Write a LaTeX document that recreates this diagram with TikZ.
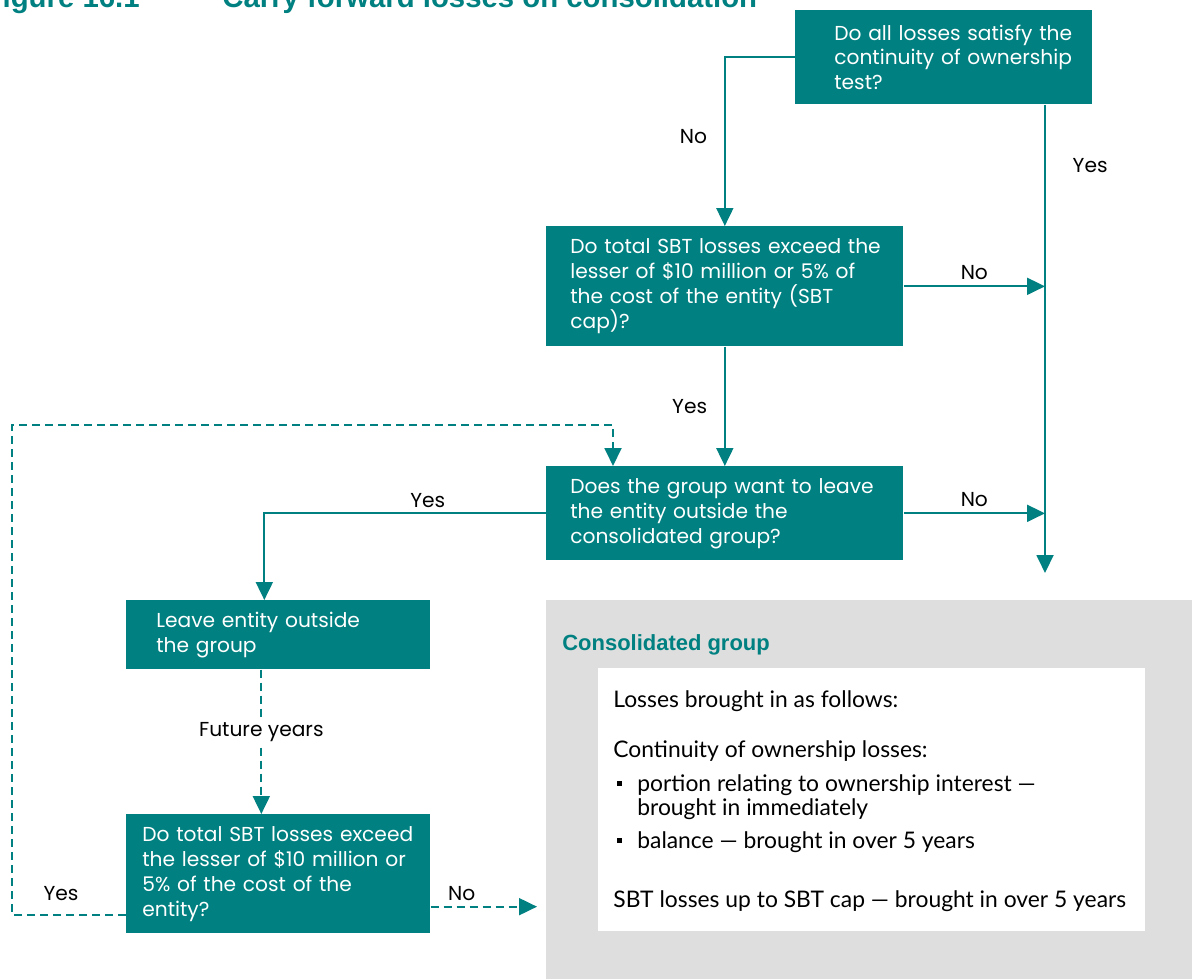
\documentclass[tikz,border=0pt]{standalone}
\usepackage{fontspec}
\setmainfont{Poppins}
\newfontfamily\listfont{Lato}
\newfontfamily\headfont{Liberation Sans}
\usetikzlibrary{arrows.meta,calc}
\definecolor{boxteal}{RGB}{0,128,128}
\definecolor{panelgrey}{RGB}{222,222,222}
\tikzset{>={Triangle[length=0.36cm,width=0.34cm]}}
\tikzset{
  qbox/.style={fill=boxteal, text=white, inner sep=0pt, anchor=north west,
    align=left, font=\fontsize{11.5}{14.2}\selectfont},
  pad/.style={execute at begin node={\leftskip=#1\relax}},
  flow/.style={draw=boxteal, line width=1.1pt, ->},
  future/.style={flow, dash pattern=on 0.16cm off 0.1cm},
  lbl/.style={font=\fontsize{11.5}{13}\selectfont, inner sep=1pt},
  listline/.style={anchor=west, inner sep=0pt, font=\listfont\fontsize{13}{15}\selectfont},
  heading/.style={inner sep=0pt, text=boxteal, font=\headfont\bfseries\fontsize{16.7}{19}\selectfont},
}

\begin{document}
\begin{tikzpicture}[x=0.02cm,y=-0.02cm]
  \useasboundingbox (0,0) rectangle (1192,979);

  % Title
  \node[heading, anchor=base east] (fig) at (140,8) {Figure 16.1};
  \node[heading, anchor=base west] (title) at (222,8) {Carry forward losses on consolidation};

  % Consolidated group panel
  \node[fill=panelgrey, anchor=north west, inner sep=0pt,
    minimum width=13.08cm, minimum height=7.8cm] (grey) at (546,600) {};
  \node[anchor=base west, inner sep=0pt, text=boxteal,
    font=\headfont\bfseries\fontsize{12.5}{14}\selectfont] (cg) at (562,650) {Consolidated group};
  \node[fill=white, anchor=north west, inner sep=0pt,
    minimum width=10.94cm, minimum height=5.26cm] (panel) at (598,668) {};

  % Boxes
  \node[qbox, pad=0.78cm, text width=5.94cm, minimum height=1.88cm] (q1) at (795,10)
    {Do all losses satisfy the\\continuity of ownership\\test?};
  \node[qbox, pad=0.48cm, text width=7.14cm, minimum height=2.4cm] (q2) at (546,226)
    {Do total SBT losses exceed the\\lesser of \$10 million or 5\% of\\the cost of the entity (SBT\\cap)?};
  \node[qbox, pad=0.48cm, text width=7.14cm, minimum height=1.88cm] (q3) at (546,466)
    {Does the group want to leave\\the entity outside the\\consolidated group?};
  \node[qbox, pad=0.6cm, text width=6.08cm, minimum height=1.38cm] (q4) at (126,600)
    {Leave entity outside\\the group};
  \node[qbox, pad=0.32cm, text width=6.08cm, minimum height=2.38cm] (q5) at (126,814)
    {Do total SBT losses exceed\\the lesser of \$10 million or\\5\% of the cost of the\\entity?};

  % Corners
  \coordinate (drop) at (1045,573);
  \coordinate (loop) at (12,425);
  \coordinate (q5yes) at ($(q5.south west)+(0,-19)$);
  \coordinate (q5no) at ($(q5.south east)+(0,-27)$);
  \coordinate (q3in) at ($(q3.north west)+(67,0)$);
  \coordinate (q4in) at ($(q4.north)+(-14,0)$);
  \coordinate (q4out) at ($(q4.south)+(-17,0)$);

  % Lines
  \draw[flow] (q1.west) -| node[lbl, pos=0.735, left=0.3cm] {No} (q2.north);
  \draw[flow] (q1.south -| drop) -- node[lbl, pos=0.13, right=0.5cm] {Yes} (drop);
  \draw[flow] (q2.east) -- node[lbl, above=0.08cm] {No} (q2.east -| drop);
  \draw[flow] (q2.south) -- node[lbl, left=0.3cm] {Yes} (q3.north);
  \draw[flow] (q3.east) -- node[lbl, above=0.08cm] {No} (q3.east -| drop);
  \draw[flow] (q3.west) -| node[lbl, pos=0.21, above=0.06cm] {Yes} (q4in);
  \draw[future] (q4out) -- node[lbl, pos=0.43, fill=white, inner sep=3pt] {Future years} (q4out |- q5.north);
  \draw[future] (q5yes) -- node[lbl, pos=0.57, above=0.22cm] {Yes} (q5yes -| loop) -- (loop) -| (q3in);
  \draw[future, shorten >=0.18cm] (q5no) -- node[lbl, pos=0.27, above=0.06cm] {No} (q5no -| grey.west);

  % Panel text
  \node[listline] (l1) at (613,701) {Losses brought in as follows:};
  \node[listline] (l2) at (613,751) {Continuity of ownership losses:};
  \node[listline] (l3) at (637,785) {portion relating to ownership interest —};
  \node[listline] (l4) at (637,809) {brought in immediately};
  \node[listline] (l5) at (637,842) {balance —\ brought in over 5 years};
  \node[listline] (l6) at (613,901) {SBT losses up to SBT cap —\ brought in over 5 years};
  \foreach \row in {l3,l5}
    \fill[black] ($(\row.west)+(-20,-4)$) rectangle +(5,5);
\end{tikzpicture}
\end{document}
